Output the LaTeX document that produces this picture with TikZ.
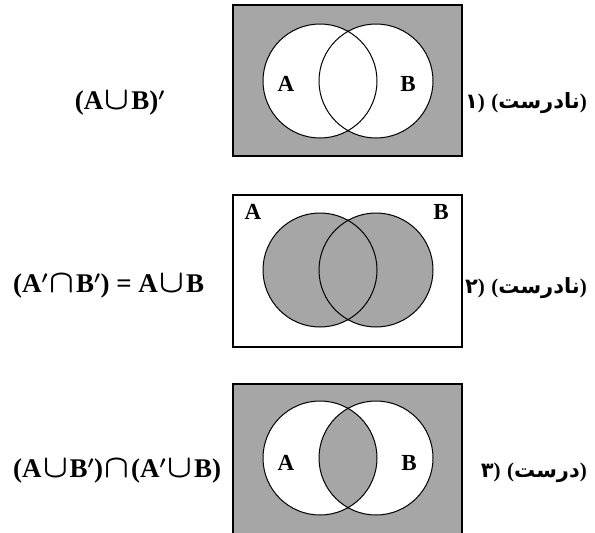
\documentclass[tikz,border=0pt]{standalone}
\usepackage{fontspec}
\usepackage{graphicx}
\setmainfont{Liberation Serif}
\newfontfamily\farsifont[Script=Arabic]{DejaVu Sans}
\TeXXeTstate=1
\usetikzlibrary{positioning}

% set symbols as in the printed sheet
\newcommand{\unionsym}{\hspace{0.06em}\scalebox{1.3}{$\cup$}\hspace{0.06em}}
\newcommand{\intersym}{\hspace{0.06em}\scalebox{1.3}{$\cap$}\hspace{0.06em}}
\newcommand{\cmpl}{$'$}

\begin{document}
\begin{tikzpicture}[
  x=1pt, y=-1pt,
  % Venn parts
  frame/.style={draw=black, line width=1.3pt},
  venn/.style={draw=black, line width=1pt},
  shade/.style={fill=black!35},
  % Text styles
  setlbl/.style={font=\fontsize{23}{23}\selectfont\bfseries, inner sep=0pt},
  expr/.style={font=\fontsize{27}{27}\selectfont\bfseries\mathversion{bold}, inner sep=0pt},
  verdict/.style={font=\fontsize{21}{21}\selectfont\bfseries, inner sep=0pt, anchor=east},
  optnum/.style={font=\fontsize{21}{21}\selectfont\bfseries, inner sep=0pt}
]
\useasboundingbox (0,0) rectangle (595,533);

% === ROW 1: complement of the union ===
\fill[shade] (233,5) rectangle (462,156);
\fill[white] (320,81) circle (57) (376,81) circle (57);
\draw[frame] (233,5) rectangle (462,156);
\draw[venn] (320,81) circle (57) (376,81) circle (57);
\node[setlbl] (a1) at (286,84) {A};
\node[setlbl] (b1) at (408,84) {B};
\node[expr, anchor=east] (f1) at (165,103) {(A\unionsym B)\cmpl};
\node[verdict] (v1) at (587,103) {({\farsifont\beginR نادرست\endR})};
\node[optnum, base left=6pt of v1] (n1) {{\farsifont ۱})};

% === ROW 2: both circles shaded ===
\fill[shade] (320,270) circle (57) (376,270) circle (57);
\draw[frame] (233,195) rectangle (462,347);
\draw[venn] (320,270) circle (57) (376,270) circle (57);
\node[setlbl] (a2) at (253,212) {A};
\node[setlbl] (b2) at (441,212) {B};
\node[expr, anchor=west] (f2) at (13,286) {(A\cmpl\intersym B\cmpl) = A\unionsym B};
\node[verdict] (v2) at (587,288) {({\farsifont\beginR نادرست\endR})};
\node[optnum, base left=6pt of v2] (n2) {{\farsifont ۲})};

% === ROW 3: outside and overlap shaded ===
\fill[shade] (233,384) rectangle (462,545);
\fill[white] (320,458) circle (57) (376,458) circle (57);
\begin{scope}
  \clip (320,458) circle (57);
  \fill[shade] (376,458) circle (57);
\end{scope}
\draw[frame] (233,545) -- (233,384) -- (462,384) -- (462,545);
\draw[venn] (320,458) circle (57) (376,458) circle (57);
\node[setlbl] (a3) at (286,463) {A};
\node[setlbl] (b3) at (409,463) {B};
\node[expr, anchor=west] (f3) at (13,471) {(A\unionsym B\cmpl)\intersym(A\cmpl\unionsym B)};
\node[verdict] (v3) at (587,473) {({\farsifont\beginR درست\endR})};
\node[optnum, base left=6pt of v3] (n3) {{\farsifont ۳})};

\end{tikzpicture}
\end{document}
